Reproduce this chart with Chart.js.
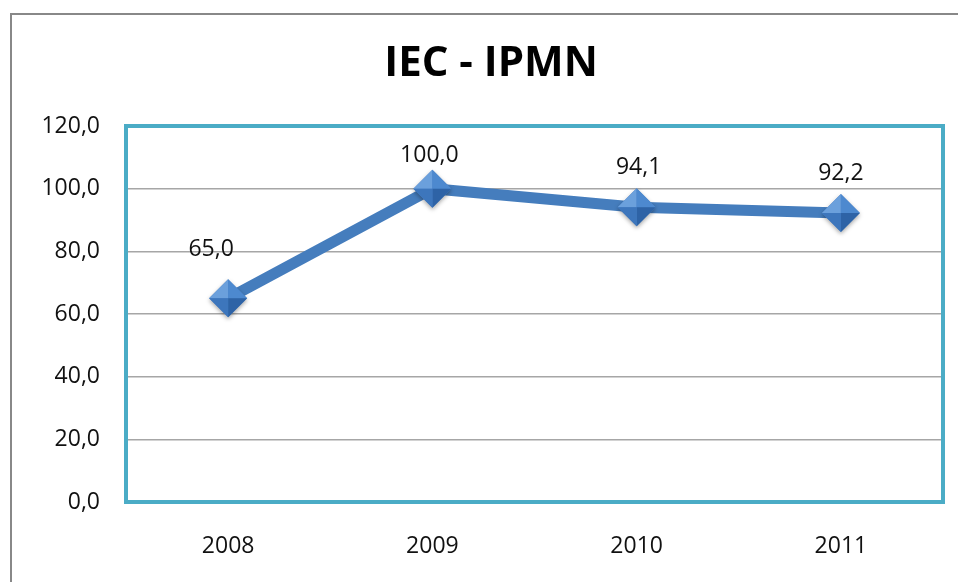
<!DOCTYPE html>
<html lang="es">
    <head>
        <meta charset="utf-8" />
        <script src="https://cdn.jsdelivr.net/npm/chart.js@4.4.1/dist/chart.umd.min.js"></script>
        <title>IEC - IPMN</title>
        <style>
            html, body { margin: 0; padding: 0; background: #fff; }
            #wrap { width: 958px; height: 582px; }
        </style>
    </head>
    <body>
        <div id="wrap"><canvas id="grafico"></canvas></div>
        <script>
            // datos
            var titulo = "IEC - IPMN";
            var anios = ["2008", "2009", "2010", "2011"];
            var valores = [65.0, 100.0, 94.1, 92.2];
            var marcasY = [0, 20, 40, 60, 80, 100, 120];

            // desplazamiento de las etiquetas respecto del punto (solo estilo)
            var etiquetaDx = [-17, -3, 2, 0];
            var etiquetaDy = [-49, -33, -40, -40];

            var fuente = "'Open Sans', 'Noto Sans', sans-serif";
            var colorTexto = "#111111";

            function coma(n) {
                return n.toFixed(1).replace(".", ",");
            }

            var marcos = {
                id: "marcos",
                beforeDraw: function (chart) {
                    var ctx = chart.ctx;
                    ctx.save();
                    ctx.strokeStyle = "#888888";
                    ctx.lineWidth = 2;
                    ctx.strokeRect(11, 14, 980, 600);
                    // titulo
                    ctx.fillStyle = "#000";
                    ctx.font = "bold 42px " + fuente;
                    ctx.textAlign = "center";
                    ctx.textBaseline = "middle";
                    ctx.fillText(titulo, 491, 64);
                    ctx.restore();
                },
                beforeDatasetsDraw: function (chart) {
                    var a = chart.chartArea, ctx = chart.ctx;
                    ctx.save();
                    ctx.strokeStyle = "#4BACC6";
                    ctx.lineWidth = 4;
                    ctx.strokeRect(a.left, a.top, a.right - a.left, a.bottom - a.top);
                    ctx.restore();
                },
                afterDatasetsDraw: function (chart) {
                    var ctx = chart.ctx;
                    var puntos = chart.getDatasetMeta(0).data;
                    ctx.save();
                    puntos.forEach(function (p, i) {
                        var r = 19;
                        var x = p.x, y = p.y;
                        // caras del diamante
                        var caras = [
                            [[x - r, y], [x, y - r], "#6BA0DC"],
                            [[x, y - r], [x + r, y], "#4D89CF"],
                            [[x + r, y], [x, y + r], "#2E63A6"],
                            [[x, y + r], [x - r, y], "#3D76BC"],
                        ];
                        ctx.shadowColor = "rgba(0,0,0,0.35)";
                        ctx.shadowBlur = 4;
                        ctx.shadowOffsetY = 2;
                        ctx.beginPath();
                        ctx.moveTo(x - r, y);
                        ctx.lineTo(x, y - r);
                        ctx.lineTo(x + r, y);
                        ctx.lineTo(x, y + r);
                        ctx.closePath();
                        ctx.fillStyle = "#4A82C6";
                        ctx.fill();
                        ctx.shadowColor = "transparent";
                        caras.forEach(function (c) {
                            ctx.beginPath();
                            ctx.moveTo(c[0][0], c[0][1]);
                            ctx.lineTo(c[1][0], c[1][1]);
                            ctx.lineTo(x, y);
                            ctx.closePath();
                            ctx.fillStyle = c[2];
                            ctx.fill();
                        });

                        ctx.fillStyle = colorTexto;
                        ctx.font = "23px " + fuente;
                        ctx.textAlign = "center";
                        ctx.textBaseline = "middle";
                        ctx.fillText(coma(valores[i]), x + etiquetaDx[i], y + etiquetaDy[i]);
                    });
                    ctx.restore();
                },
            };

            new Chart(document.getElementById("grafico").getContext("2d"), {
                type: "line",
                data: {
                    labels: anios,
                    datasets: [
                        {
                            label: titulo,
                            data: valores,
                            borderColor: "#457DBD",
                            borderWidth: 11,
                            pointRadius: 0,
                            tension: 0,
                        },
                    ],
                },
                options: {
                    responsive: true,
                    maintainAspectRatio: false,
                    animation: false,
                    layout: { padding: { left: 10, right: 15, top: 126, bottom: 0 } },
                    plugins: {
                        legend: { display: false },
                        tooltip: { enabled: false },
                        title: { display: false },
                    },
                    scales: {
                        x: {
                            offset: true,
                            grid: { display: false, drawTicks: false },
                            border: { display: false },
                            ticks: {
                                color: colorTexto,
                                font: { family: fuente, size: 23 },
                                padding: 31,
                            },
                            afterFit: function (s) { s.height = 80; },
                        },
                        y: {
                            min: 0,
                            max: 120,
                            afterBuildTicks: function (s) {
                                s.ticks = marcasY.map(function (v) { return { value: v }; });
                            },
                            grid: { color: "#A6A6A6", lineWidth: 1.5, drawTicks: false },
                            border: { display: false },
                            ticks: {
                                color: colorTexto,
                                font: { family: fuente, size: 23 },
                                padding: 26,
                                callback: function (v) { return coma(v); },
                            },
                            afterFit: function (s) { s.width = 116; },
                        },
                    },
                },
                plugins: [marcos],
            });
        </script>
    </body>
</html>
